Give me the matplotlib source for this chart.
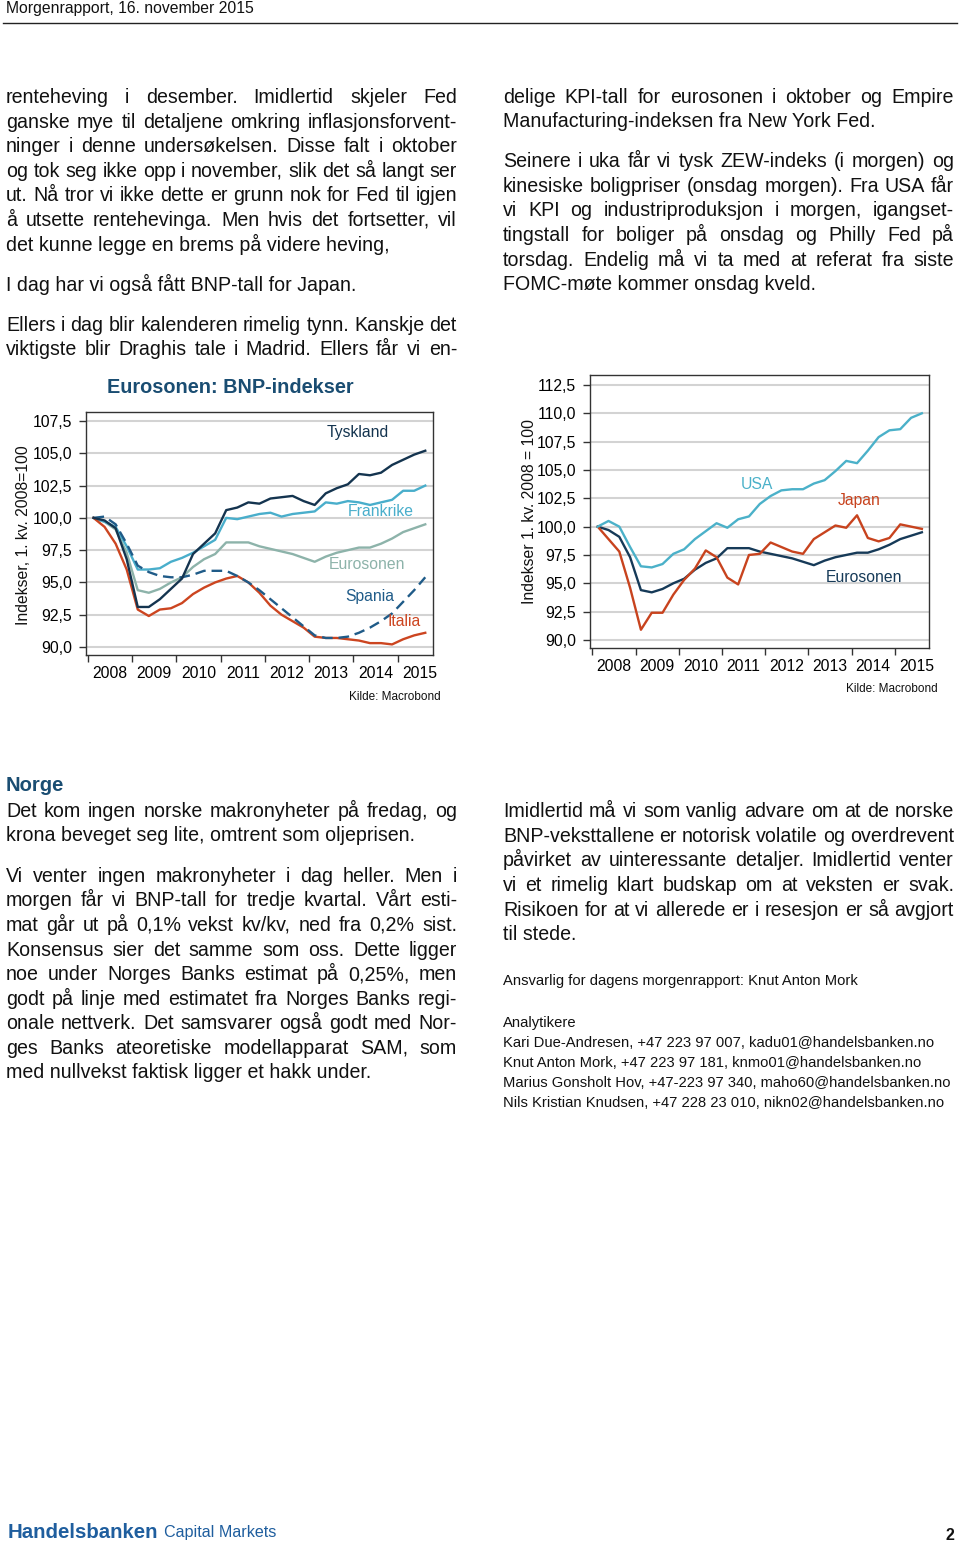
import numpy as np
import matplotlib
matplotlib.use("Agg")
import matplotlib.pyplot as plt
from matplotlib.ticker import FixedLocator, NullFormatter, FixedFormatter

plt.rcParams['font.family'] = ['Liberation Sans', 'DejaVu Sans']

# ---------------- data ----------------
years = [2008, 2009, 2010, 2011, 2012, 2013, 2014, 2015]
year_labels = ['2008', '2009', '2010', '2011', '2012', '2013', '2014', '2015']
# quarterly observations 2008Q1 .. 2015Q3 (plotted at mid-quarter)
quarters = np.arange(2008, 2015.75, 0.25) + 0.125

tyskland = [100.0, 99.8, 99.2, 96.8, 93.1, 93.1, 93.7, 94.5, 95.3, 97.2, 98.0, 98.8,
            100.6, 100.8, 101.2, 101.1, 101.5, 101.6, 101.7, 101.3, 101.0, 101.9, 102.3,
            102.6, 103.4, 103.3, 103.5, 104.1, 104.5, 104.9, 105.2]
frankrike = [100.0, 99.7, 99.3, 97.8, 96.0, 96.0, 96.1, 96.6, 96.9, 97.3, 97.8, 98.3,
             100.0, 99.9, 100.1, 100.3, 100.4, 100.1, 100.3, 100.4, 100.5, 101.2, 101.1,
             101.3, 101.2, 101.0, 101.2, 101.4, 102.1, 102.1, 102.5]
eurosonen = [100.0, 99.7, 99.1, 97.3, 94.4, 94.2, 94.5, 95.0, 95.4, 96.2, 96.8, 97.2,
             98.1, 98.1, 98.1, 97.8, 97.6, 97.4, 97.2, 96.9, 96.6, 97.0, 97.3,
             97.5, 97.7, 97.7, 98.0, 98.4, 98.9, 99.2, 99.5]
spania = [100.0, 100.1, 99.5, 98.0, 96.3, 95.8, 95.5, 95.4, 95.4, 95.6, 95.9, 95.9,
          95.9, 95.5, 95.0, 94.4, 93.7, 93.0, 92.3, 91.6, 90.9, 90.7, 90.7,
          90.8, 91.1, 91.5, 92.0, 92.6, 93.5, 94.4, 95.4]
italia = [100.0, 99.3, 98.0, 96.0, 92.9, 92.4, 92.9, 93.0, 93.4, 94.1, 94.6, 95.0,
          95.3, 95.5, 95.0, 94.2, 93.2, 92.5, 92.0, 91.5, 90.8, 90.7, 90.7,
          90.6, 90.5, 90.3, 90.3, 90.2, 90.6, 90.9, 91.1]
usa = [100.0, 100.5, 100.0, 98.2, 96.5, 96.4, 96.7, 97.6, 98.0, 98.9, 99.6, 100.3,
       99.9, 100.65, 100.9, 102.0, 102.7, 103.2, 103.3, 103.3, 103.8, 104.1, 104.9,
       105.8, 105.6, 106.7, 107.9, 108.5, 108.6, 109.6, 110.0]
japan = [100.0, 98.9, 97.8, 94.6, 90.9, 92.4, 92.4, 94.0, 95.3, 96.3, 97.9, 97.3,
         95.5, 94.9, 97.5, 97.6, 98.6, 98.2, 97.8, 97.6, 98.9, 99.5, 100.1,
         99.9, 101.0, 99.0, 98.7, 99.0, 100.2, 100.0, 99.8]

yticks1 = [90.0, 92.5, 95.0, 97.5, 100.0, 102.5, 105.0, 107.5]
yticks2 = [90.0, 92.5, 95.0, 97.5, 100.0, 102.5, 105.0, 107.5, 110.0, 112.5]

# ---------------- text ----------------
left_top = [
    ("renteheving i desember. Imidlertid skjeler Fed", True),
    ("ganske mye til detaljene omkring inflasjonsforvent-", True),
    ("ninger i denne undersøkelsen. Disse falt i oktober", True),
    ("og tok seg ikke opp i november, slik det så langt ser", True),
    ("ut. Nå tror vi ikke dette er grunn nok for Fed til igjen", True),
    ("å utsette rentehevinga. Men hvis det fortsetter, vil", True),
    ("det kunne legge en brems på videre heving,", False),
]
left_top_y = [103, 127.6, 152.2, 176.8, 201.4, 226, 250.6]
left_p2 = [("I dag har vi også fått BNP-tall for Japan.", False)]
left_p2_y = [291]
left_p3 = [
    ("Ellers i dag blir kalenderen rimelig tynn. Kanskje det", True),
    ("viktigste blir Draghis tale i Madrid. Ellers får vi en-", True),
]
left_p3_y = [330.7, 355.3]
right_top = [
    ("delige KPI-tall for eurosonen i oktober og Empire", True),
    ("Manufacturing-indeksen fra New York Fed.", False),
]
right_top_y = [102.7, 127.3]
right_p2 = [
    ("Seinere i uka får vi tysk ZEW-indeks (i morgen) og", True),
    ("kinesiske boligpriser (onsdag morgen). Fra USA får", True),
    ("vi KPI og industriproduksjon i morgen, igangset-", True),
    ("tingstall for boliger på onsdag og Philly Fed på", True),
    ("torsdag. Endelig må vi ta med at referat fra siste", True),
    ("FOMC-møte kommer onsdag kveld.", False),
]
right_p2_y = [167.3, 191.9, 216.5, 241.1, 265.7, 290.3]

norge_p1 = [
    ("Det kom ingen norske makronyheter på fredag, og", True),
    ("krona beveget seg lite, omtrent som oljeprisen.", False),
]
norge_p1_y = [816.7, 841.3]
norge_p2 = [
    ("Vi venter ingen makronyheter i dag heller. Men i", True),
    ("morgen får vi BNP-tall for tredje kvartal. Vårt esti-", True),
    ("mat går ut på 0,1% vekst kv/kv, ned fra 0,2% sist.", True),
    ("Konsensus sier det samme som oss. Dette ligger", True),
    ("noe under Norges Banks estimat på 0,25%, men", True),
    ("godt på linje med estimatet fra Norges Banks regi-", True),
    ("onale nettverk. Det samsvarer også godt med Nor-", True),
    ("ges Banks ateoretiske modellapparat SAM, som", True),
    ("med nullvekst faktisk ligger et hakk under.", False),
]
norge_p2_y = [881.7, 906.3, 930.9, 955.5, 980.1, 1004.7, 1029.3, 1053.9, 1078.5]
right_norge = [
    ("Imidlertid må vi som vanlig advare om at de norske", True),
    ("BNP-veksttallene er notorisk volatile og overdrevent", True),
    ("påvirket av uinteressante detaljer. Imidlertid venter", True),
    ("vi et rimelig klart budskap om at veksten er svak.", True),
    ("Risikoen for at vi allerede er i resesjon er så avgjort", True),
    ("til stede.", False),
]
right_norge_y = [817.3, 841.9, 866.5, 891.1, 915.7, 940.3]
contacts = [
    "Analytikere",
    "Kari Due-Andresen, +47 223 97 007, kadu01@handelsbanken.no",
    "Knut Anton Mork, +47 223 97 181, knmo01@handelsbanken.no",
    "Marius Gonsholt Hov, +47-223 97 340, maho60@handelsbanken.no",
    "Nils Kristian Knudsen, +47 228 23 010, nikn02@handelsbanken.no",
]
contacts_y = [1027, 1047, 1067, 1087, 1106.7]

# ---------------- figure ----------------
W, H = 960, 1546
fig = plt.figure(figsize=(W / 100, H / 100), dpi=100)
fig.patch.set_facecolor('white')
pax = fig.add_axes([0, 0, 1, 1])
pax.set_xlim(0, W)
pax.set_ylim(H, 0)
pax.axis('off')
renderer = fig.canvas.get_renderer()

BODY = 14.1
SMALL = 10.65
TXT = '#111111'
NAVY = '#1A4D72'


def draw_lines(lines, ys, x0, x1, size=BODY, color=TXT):
    for (txt, just), y in zip(lines, ys):
        if not just:
            pax.text(x0, y, txt, ha='left', va='baseline', fontsize=size, color=color)
            continue
        words = txt.split(' ')
        objs = [pax.text(0, y, w, ha='left', va='baseline', fontsize=size, color=color)
                for w in words]
        widths = [o.get_window_extent(renderer).width for o in objs]
        gap = (x1 - x0 - sum(widths)) / (len(words) - 1)
        x = x0
        for o, w in zip(objs, widths):
            o.set_x(x)
            x += w + gap


# header
pax.text(6, 13.5, "Morgenrapport, 16. november 2015", fontsize=11.3, color=TXT,
         ha='left', va='baseline')
pax.plot([3, 957], [23.3, 23.3], color='#222222', lw=1.0)

LX0, LX1 = 6, 457
RX0, RX1 = 503, 954
draw_lines(left_top, left_top_y, LX0, LX1)
draw_lines(left_p2, left_p2_y, LX0, LX1)
draw_lines(left_p3, left_p3_y, LX0, LX1)
draw_lines(right_top, right_top_y, RX0, RX1)
draw_lines(right_p2, right_p2_y, RX0, RX1)

pax.text(6, 790.7, "Norge", fontsize=14.5, fontweight='bold', color=NAVY,
         ha='left', va='baseline')
draw_lines(norge_p1, norge_p1_y, LX0, LX1)
draw_lines(norge_p2, norge_p2_y, LX0, LX1)
draw_lines(right_norge, right_norge_y, RX0, RX1)

pax.text(503, 985, "Ansvarlig for dagens morgenrapport: Knut Anton Mork",
         fontsize=SMALL, color=TXT, ha='left', va='baseline')
for t, y in zip(contacts, contacts_y):
    pax.text(503, y, t, fontsize=SMALL, color=TXT, ha='left', va='baseline')

# footer
BLUE = '#1F5E9E'
t1 = pax.text(8, 1537.5, "Handelsbanken", fontsize=14.7, fontweight='bold', color=BLUE,
              ha='left', va='baseline')
w1 = t1.get_window_extent(renderer).width
pax.text(8 + w1 + 5, 1537.5, "Capital Markets", fontsize=11.6, color=BLUE,
         ha='left', va='baseline')
pax.text(954, 1540, "2", fontsize=11.5, fontweight='bold', color=TXT,
         ha='right', va='baseline')

# ---------------- charts ----------------
C_TYS = '#14344F'
C_FRA = '#49AECB'
C_EUR = '#8DB3AA'
C_SPA = '#1F5B88'
C_ITA = '#CC4520'
C_USA = '#4BB1C9'
C_JAP = '#C8431E'
C_EUR2 = '#163A58'
TICK = 11.3


def style_axes(ax, yticks, ylim, xlim):
    ax.set_xlim(*xlim)
    ax.set_ylim(*ylim)
    ax.set_yticks(yticks)
    ax.set_yticklabels([f"{v:.1f}".replace('.', ',') for v in yticks], fontsize=TICK)
    ax.yaxis.grid(True, color='#D3D3D3', lw=1.5)
    ax.set_axisbelow(True)
    ax.xaxis.set_major_locator(FixedLocator(years))
    ax.xaxis.set_major_formatter(NullFormatter())
    ax.xaxis.set_minor_locator(FixedLocator([y + 0.5 for y in years]))
    ax.xaxis.set_minor_formatter(FixedFormatter(year_labels))
    ax.tick_params(axis='x', which='major', length=5, width=1, color='#333333')
    ax.tick_params(axis='x', which='minor', length=0, pad=8, labelsize=TICK)
    ax.tick_params(axis='y', length=5, width=1, color='#333333', pad=5)
    for s in ax.spines.values():
        s.set_color('#333333')
        s.set_linewidth(1.0)


LW = 1.7
# chart 1
ax1 = fig.add_axes([86 / W, 1 - 655 / H, 347 / W, 243 / H])
style_axes(ax1, yticks1, (89.38, 108.2), (2007.955, 2015.8))
ax1.plot(quarters, eurosonen, color=C_EUR, lw=LW)
ax1.plot(quarters, frankrike, color=C_FRA, lw=LW)
ax1.plot(quarters, italia, color=C_ITA, lw=LW)
ax1.plot(quarters, spania, color=C_SPA, lw=LW, ls=(0, (4.5, 2.5)))
ax1.plot(quarters, tyskland, color=C_TYS, lw=LW)
lab = 11.3
ax1.text(2014.09, 106.64, "Tyskland", color=C_TYS, fontsize=lab, ha='center', va='center')
ax1.text(2014.61, 100.52, "Frankrike", color=C_FRA, fontsize=lab, ha='center', va='center')
ax1.text(2014.31, 96.41, "Eurosonen", color=C_EUR, fontsize=lab, ha='center', va='center')
ax1.text(2014.38, 93.93, "Spania", color=C_SPA, fontsize=lab, ha='center', va='center')
ax1.text(2015.15, 91.99, "Italia", color=C_ITA, fontsize=lab, ha='center', va='center')
pax.text(230, 392.7, "Eurosonen: BNP-indekser", fontsize=14.3, fontweight='bold',
         color=NAVY, ha='center', va='baseline')
pax.text(24, 535, "Indekser, 1. kv. 2008=100", fontsize=TICK, rotation=90,
         ha='center', va='center', color=TXT)
pax.text(441, 700, "Kilde: Macrobond", fontsize=8.5, ha='right', va='baseline', color=TXT)

# chart 2
ax2 = fig.add_axes([590 / W, 1 - 648 / H, 339 / W, 273 / H])
style_axes(ax2, yticks2, (89.29, 113.38), (2007.947, 2015.79))
ax2.plot(quarters, eurosonen, color=C_EUR2, lw=LW)
ax2.plot(quarters, japan, color=C_JAP, lw=LW)
ax2.plot(quarters, usa, color=C_USA, lw=LW)
ax2.text(2011.81, 103.7, "USA", color=C_USA, fontsize=lab, ha='center', va='center')
ax2.text(2014.17, 102.3, "Japan", color=C_JAP, fontsize=lab, ha='center', va='center')
ax2.text(2014.29, 95.5, "Eurosonen", color=C_EUR2, fontsize=lab, ha='center', va='center')
pax.text(530, 512, "Indekser 1. kv. 2008 = 100", fontsize=TICK, rotation=90,
         ha='center', va='center', color=TXT)
pax.text(938, 692, "Kilde: Macrobond", fontsize=8.5, ha='right', va='baseline', color=TXT)

fig.savefig("out.png", dpi=100, facecolor='white')
